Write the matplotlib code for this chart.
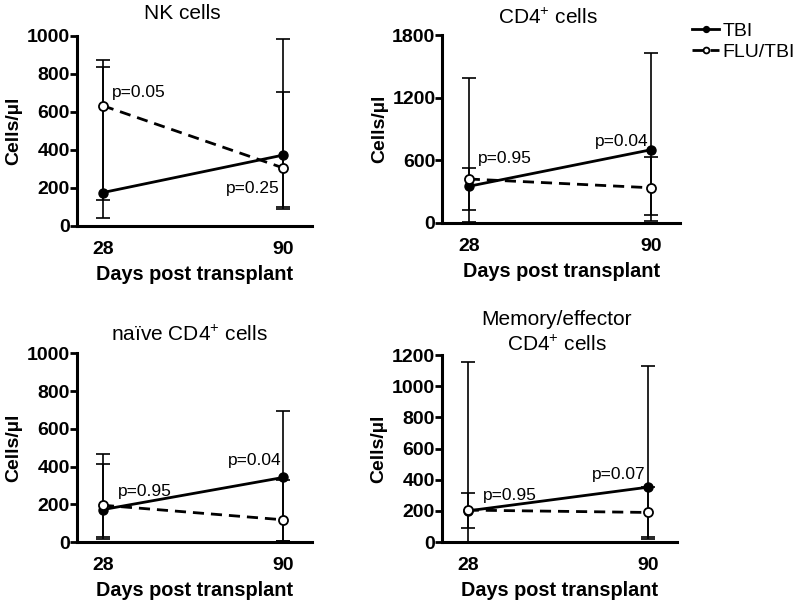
import numpy as np
import matplotlib
matplotlib.use("Agg")
import matplotlib.pyplot as plt

plt.rcParams['font.family'] = ['Liberation Sans', 'DejaVu Sans']
plt.rcParams['mathtext.fontset'] = 'custom'
plt.rcParams['mathtext.rm'] = 'Liberation Sans'
plt.rcParams['mathtext.it'] = 'Liberation Sans'

days = [28, 90]

# NK cells
nk_tbi = [175, 372]
nk_tbi_lo = [40, 88]
nk_tbi_hi = [838, 982]
nk_flu = [632, 305]
nk_flu_lo = [135, 100]
nk_flu_hi = [873, 702]

# CD4+ cells
cd4_tbi = [350, 700]
cd4_tbi_lo = [5, 16]
cd4_tbi_hi = [1385, 1634]
cd4_flu = [420, 336]
cd4_flu_lo = [118, 74]
cd4_flu_hi = [530, 633]

# naive CD4+ cells
nv_tbi = [172, 342]
nv_tbi_lo = [16, 3]
nv_tbi_hi = [413, 695]
nv_flu = [195, 118]
nv_flu_lo = [28, 5]
nv_flu_hi = [466, 330]

# memory/effector CD4+ cells
me_tbi = [200, 352]
me_tbi_lo = [2, 20]
me_tbi_hi = [1153, 1130]
me_flu = [205, 190]
me_flu_lo = [90, 32]
me_flu_hi = [314, 355]

panels = [
    dict(title='NK cells', tx=0.447, tpad=12, pos=[0.096, 0.628, 0.294, 0.313], ymax=1000,
         ticks=[0, 200, 400, 600, 800, 1000],
         tbi=nk_tbi, tlo=nk_tbi_lo, thi=nk_tbi_hi, flu=nk_flu, flo=nk_flu_lo, fhi=nk_flu_hi,
         p=[('p=0.05', 31, 700, 'left'), ('p=0.25', 89, 195, 'right')]),
    dict(title='CD4$^{+}$ cells', tx=0.443, tpad=8, pos=[0.553, 0.633, 0.297, 0.309], ymax=1800,
         ticks=[0, 600, 1200, 1800],
         tbi=cd4_tbi, tlo=cd4_tbi_lo, thi=cd4_tbi_hi, flu=cd4_flu, flo=cd4_flu_lo, fhi=cd4_flu_hi,
         p=[('p=0.95', 31, 620, 'left'), ('p=0.04', 89.4, 783, 'right')]),
    dict(title='naïve CD4$^{+}$ cells', tx=0.48, tpad=9, pos=[0.096, 0.107, 0.294, 0.311], ymax=1000,
         ticks=[0, 200, 400, 600, 800, 1000],
         tbi=nv_tbi, tlo=nv_tbi_lo, thi=nv_tbi_hi, flu=nv_flu, flo=nv_flu_lo, fhi=nv_flu_hi,
         p=[('p=0.95', 33.2, 266, 'left'), ('p=0.04', 89.4, 430, 'right')]),
    dict(title='Memory/effector\nCD4$^{+}$ cells', tx=0.49, tpad=2, pos=[0.552, 0.107, 0.294, 0.308],
         ymax=1200, ticks=[0, 200, 400, 600, 800, 1000, 1200],
         tbi=me_tbi, tlo=me_tbi_lo, thi=me_tbi_hi, flu=me_flu, flo=me_flu_lo, fhi=me_flu_hi,
         p=[('p=0.95', 33.3, 297, 'left'), ('p=0.07', 89.4, 431, 'right')]),
]

fig = plt.figure(figsize=(8, 6.07), dpi=100)

for pn in panels:
    ax = fig.add_axes(pn['pos'])
    x = np.array(days)
    tbi = np.array(pn['tbi'])
    flu = np.array(pn['flu'])
    ax.errorbar(x, tbi, yerr=[tbi - np.array(pn['tlo']), np.array(pn['thi']) - tbi],
                fmt='none', ecolor='black', elinewidth=1.2, capsize=5, capthick=1.2, zorder=2)
    ax.errorbar(x, flu, yerr=[flu - np.array(pn['flo']), np.array(pn['fhi']) - flu],
                fmt='none', ecolor='black', elinewidth=1.2, capsize=5, capthick=1.2, zorder=2)
    l1, = ax.plot(x, tbi, '-', color='black', lw=2, marker='o', ms=6.5, mfc='black', mec='black',
                  label='TBI', zorder=3, clip_on=False)
    l2, = ax.plot(x, flu, '--', color='black', lw=2, marker='o', ms=6.5, mfc='white', mec='black',
                  mew=1.3, label='FLU/TBI', zorder=3, dashes=(4, 2.5), clip_on=False)
    for txt, tx, ty, ha in pn['p']:
        ax.text(tx, ty, txt, fontsize=12.5, ha=ha, va='center')
    ax.set_xlim(19, 100)
    ax.set_ylim(0, pn['ymax'])
    ax.set_xticks(days)
    ax.set_yticks(pn['ticks'])
    ax.spines['top'].set_visible(False)
    ax.spines['right'].set_visible(False)
    ax.spines['left'].set_linewidth(2.2)
    ax.spines['bottom'].set_linewidth(2.2)
    ax.tick_params(axis='y', length=5, width=2, labelsize=14, pad=0)
    ax.tick_params(axis='x', length=0, labelsize=14, pad=11)
    for lab in ax.get_xticklabels() + ax.get_yticklabels():
        lab.set_fontweight('bold')
    ax.set_ylabel('Cells/µl', fontsize=14, fontweight='bold', labelpad=3)
    ax.set_xlabel('Days post transplant', fontsize=14.3, fontweight='bold', labelpad=5)
    ax.set_title(pn['title'], fontsize=15, pad=pn['tpad'], x=pn['tx'], linespacing=1.35)

fig.legend(handles=[l1, l2], labels=['TBI', 'FLU/TBI'], loc='upper left', bbox_to_anchor=(0.865, 0.963),
           frameon=False, fontsize=14, handlelength=1.4, handletextpad=0.15, labelspacing=0.15,
           markerscale=0.65, borderpad=0, borderaxespad=0)

fig.savefig('out.png', dpi=100)
